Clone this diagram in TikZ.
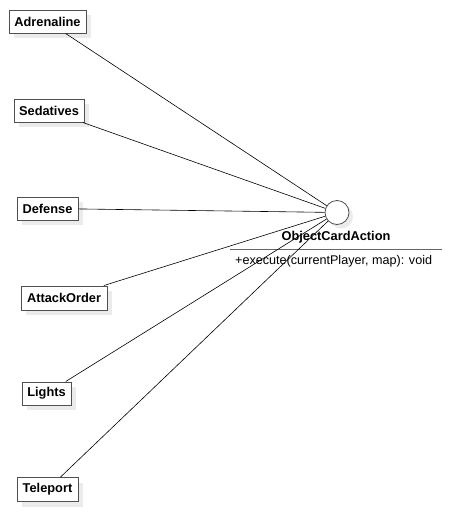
\documentclass[tikz,border=0pt]{standalone}
\usepackage{fontspec}
\setmainfont{Liberation Sans}
\usetikzlibrary{shadows}
\definecolor{shadowgray}{HTML}{EBEBEB}
\definecolor{bordergray}{HTML}{505050}
\tikzset{
  cls/.style={draw=bordergray, line width=1pt, fill=white, inner sep=0pt,
    font=\fontsize{12.8}{15}\selectfont\bfseries,
    drop shadow={shadow xshift=5pt, shadow yshift=-5pt, fill=shadowgray, opacity=1}},
  conn/.style={draw=black, line width=0.6pt},
  iface/.style={circle, draw=bordergray, line width=0.8pt, fill=white, minimum size=24pt, inner sep=0pt,
    drop shadow={shadow xshift=4pt, shadow yshift=-4pt, fill=shadowgray, opacity=1}}
}
\begin{document}
\begin{tikzpicture}[x=1pt,y=-1pt]
\useasboundingbox (0,0) rectangle (451,512);
\node[cls, minimum width=77pt, minimum height=23pt] (adr) at (47.5,21.5) {Adrenaline};
\node[cls, minimum width=70pt, minimum height=23pt] (sed) at (49,110.5) {Sedatives};
\node[cls, minimum width=61pt, minimum height=23pt] (def) at (47.5,208.5) {Defense};
\node[cls, minimum width=86pt, minimum height=24pt] (att) at (64,298) {AttackOrder};
\node[cls, minimum width=49pt, minimum height=23pt] (lig) at (46.5,393.5) {Lights};
\node[cls, minimum width=61pt, minimum height=24pt] (tel) at (47.5,489.5) {Teleport};
\node[iface] (oca) at (337,212.5) {};
\node[font=\fontsize{12.8}{15}\selectfont\bfseries] (name) at (336,237) {ObjectCardAction};
\coordinate (sepl) at (230,249.5);
\coordinate (sepr) at (442,249.5);
\draw[draw=gray!80!black, line width=1.2pt] (sepl) -- (sepr);
\node[font=\fontsize{12.6}{15}\selectfont, anchor=west, inner sep=0pt] (meth) at (235,261) {+execute(currentPlayer, map): void};
\foreach \n in {adr,sed,def,att,lig,tel} {
  \draw[conn] (\n) -- (oca);
}
\end{tikzpicture}
\end{document}
